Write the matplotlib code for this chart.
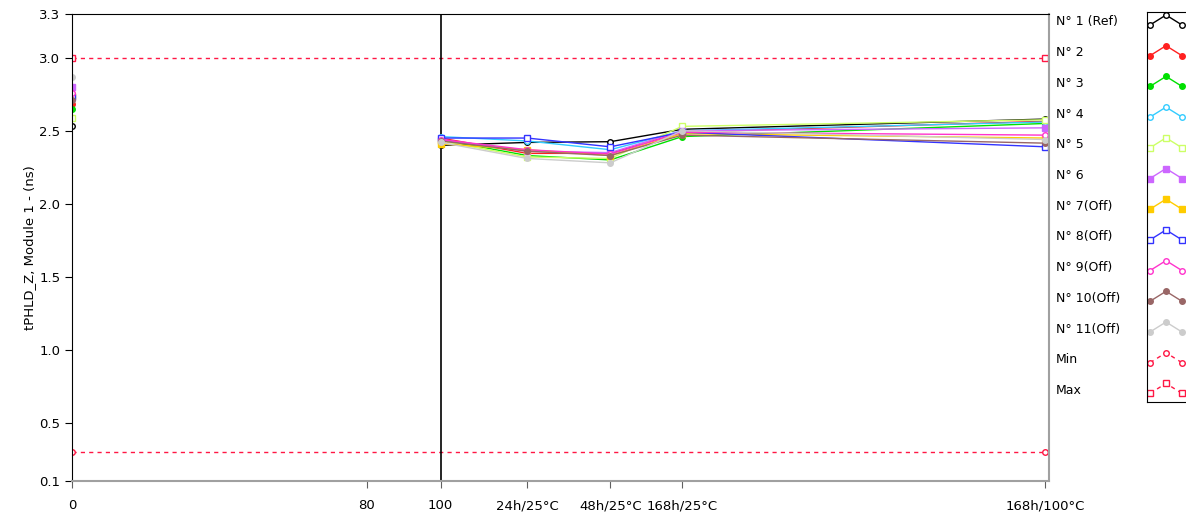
import matplotlib.pyplot as plt

# x positions of the measurement steps (axis units)
x_start = 0
x_steps = [100, 123.5, 146, 165.5, 264]
tick_pos = [0, 80, 100, 123.5, 146, 165.5, 264]
tick_labels = ["0", "80", "100", "24h/25°C", "48h/25°C", "168h/25°C", "168h/100°C"]

names = ["N° 1 (Ref)", "N° 2", "N° 3", "N° 4", "N° 5", "N° 6", "N° 7(Off)",
         "N° 8(Off)", "N° 9(Off)", "N° 10(Off)", "N° 11(Off)"]
colors = ["#000000", "#ff2020", "#00e000", "#33ccff", "#ccff66", "#cc66ff",
          "#ffcc00", "#3333ff", "#ff33cc", "#996666", "#cccccc"]
markers = ["o", "o", "o", "o", "s", "s", "s", "s", "o", "o", "o"]
filled = [False, True, True, False, False, True, True, False, False, True, True]

# value at the initial reading (x = 0)
start_vals = [2.535, 2.685, 2.65, 2.72, 2.59, 2.80, 2.74, 2.73, 2.76, 2.71, 2.865]
# values at 100, 24h, 48h, 168h/25°C, 168h/100°C
step_vals = [
    [2.40, 2.42, 2.425, 2.51, 2.58],
    [2.45, 2.345, 2.345, 2.49, 2.565],
    [2.44, 2.33, 2.30, 2.46, 2.55],
    [2.46, 2.43, 2.37, 2.50, 2.56],
    [2.43, 2.32, 2.31, 2.53, 2.575],
    [2.44, 2.36, 2.35, 2.50, 2.52],
    [2.41, 2.37, 2.33, 2.48, 2.45],
    [2.45, 2.45, 2.39, 2.49, 2.39],
    [2.44, 2.37, 2.34, 2.49, 2.47],
    [2.43, 2.36, 2.33, 2.47, 2.415],
    [2.42, 2.31, 2.28, 2.50, 2.44],
]
limit_min = 0.3
limit_max = 3.0
limit_color = "#ff1744"

fig = plt.figure(figsize=(11.86, 5.15), dpi=100)
ax = fig.add_axes([72 / 1186, 34 / 515, 977 / 1186, 467 / 515])

# limits
for val, mk in [(limit_min, "o"), (limit_max, "s")]:
    ax.plot([x_start, x_steps[-1]], [val, val], color=limit_color, ls=(0, (3, 3)),
            lw=1, marker=mk, ms=4, mfc="white", mec=limit_color)

ax.axvline(100, color="black", lw=1.2)

for i in range(len(names)):
    mfc = colors[i] if filled[i] else "white"
    ax.plot([x_start], [start_vals[i]], ls="none", marker=markers[i], ms=4,
            mfc=mfc, mec=colors[i])
    ax.plot(x_steps, step_vals[i], color=colors[i], lw=1, marker=markers[i],
            ms=4, mfc=mfc, mec=colors[i], clip_on=False)

ax.set_xlim(0, 265)
ax.set_ylim(0.1, 3.3)
ax.set_yticks([0.1, 0.5, 1.0, 1.5, 2.0, 2.5, 3.0, 3.3])
ax.set_yticklabels(["0.1", "0.5", "1.0", "1.5", "2.0", "2.5", "3.0", "3.3"])
ax.set_xticks(tick_pos)
ax.set_xticklabels(tick_labels)
ax.tick_params(axis="both", labelsize=9.5, direction="out", length=5)
ax.tick_params(axis="x", color="#606060", pad=8)
ax.set_ylabel("tPHLD_Z, Module 1 - (ns)", fontsize=9.5, labelpad=2)
for s in ["left", "top"]:
    ax.spines[s].set_color("black")
for s in ["right", "bottom"]:
    ax.spines[s].set_color("#a0a0a0")
    ax.spines[s].set_linewidth(1.5)

# legend: labels and small sample plots
all_names = names + ["Min", "Max"]
all_colors = colors + [limit_color, limit_color]
all_markers = markers + ["o", "s"]
all_filled = filled + [False, False]
row0, row_h = 22, 30.7

for i, name in enumerate(all_names):
    fig.text(1056 / 1186, 1 - (row0 + i * row_h) / 515, name, fontsize=9,
             va="center", ha="left")

leg = fig.add_axes([1147 / 1186, (515 - 402) / 515, 60 / 1186, 390 / 515])
leg.set_xlim(1147, 1207)
leg.set_ylim(402, 12)
leg.set_xticks([])
leg.set_yticks([])
for s in leg.spines.values():
    s.set_color("black")
for i in range(len(all_names)):
    yc = row0 + i * row_h
    mfc = all_colors[i] if all_filled[i] else "white"
    ls = (0, (3, 3)) if i >= len(names) else "-"
    leg.plot([1150, 1166, 1182], [yc + 3, yc - 7, yc + 3], color=all_colors[i],
             lw=1, ls=ls, marker=all_markers[i], ms=4, mfc=mfc, mec=all_colors[i])

fig.savefig("out.png", dpi=100)
